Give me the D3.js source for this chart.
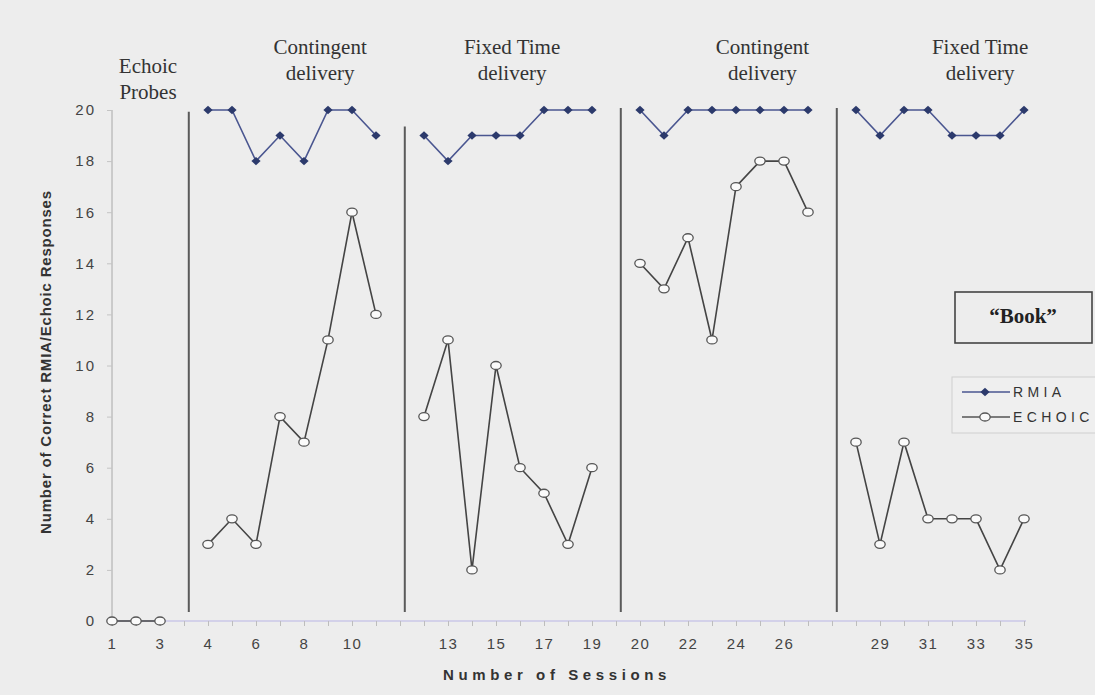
<!DOCTYPE html>
<html>
<head>
<meta charset="utf-8">
<script src="https://cdn.jsdelivr.net/npm/d3@7/dist/d3.min.js"></script>
<style>
  html, body { margin: 0; padding: 0; background: #ededed; }
  svg { display: block; }
</style>
</head>
<body>
<svg id="chart" width="1095" height="695"></svg>
<script>
// ---- DATA ----
// x slots: sessions with a blank slot at each phase change (null label)
const slotLabels = ["1","2","3",null,"4","5","6","7","8","9","10","11",null,
  "12","13","14","15","16","17","18","19",null,
  "20","21","22","23","24","25","26","27",null,
  "28","29","30","31","32","33","34","35"];
const rmia = [null,null,null,null, 20,20,18,19,18,20,20,19, null,
  19,18,19,19,19,20,20,20, null,
  20,19,20,20,20,20,20,20, null,
  20,19,20,20,19,19,19,20];
const echoic = [0,0,0,null, 3,4,3,8,7,11,16,12, null,
  8,11,2,10,6,5,3,6, null,
  14,13,15,11,17,18,18,16, null,
  7,3,7,4,4,4,2,4];
const yTicks = [0,2,4,6,8,10,12,14,16,18,20];
const phaseNames = [["Echoic","Probes"],["Contingent","delivery"],["Fixed Time","delivery"],["Contingent","delivery"],["Fixed Time","delivery"]];
const phaseLabelSlot = [1.5, 8.67, 16.67, 27.1, 36.17];
const phaseLineTop = [19.93, 19.35, 20.08, 20.08];
const seriesNames = ["RMIA","ECHOIC"];

// ---- LAYOUT ----
const svg = d3.select("#chart");
svg.append("rect").attr("width",1095).attr("height",695).attr("fill","#ededed");

const slotKeys = slotLabels.map((d,i)=> "k"+i);
const x = d3.scalePoint().domain(slotKeys).range([112,1024]);
const xi = d3.scaleLinear().domain([0, slotKeys.length-1]).range([112,1024]);
const step = x.step();
const y = d3.scaleLinear().domain([0,20]).range([621,110]);

// y axis
const yAxis = d3.axisLeft(y).tickValues(yTicks).tickSize(5).tickPadding(10);
const gy = svg.append("g").attr("transform","translate(112,0)").call(yAxis);
gy.select(".domain").attr("stroke","#a8a8a8").attr("stroke-width",1).attr("d","M0,"+y(20)+"V"+y(0));
gy.selectAll(".tick line").attr("stroke","#c4c4c4");
gy.selectAll(".tick text").attr("font-family","Arial, 'Liberation Sans', sans-serif")
  .attr("font-size",15).attr("fill","#444").attr("letter-spacing","2px").attr("dx","-1");

// x axis
const xAxis = d3.axisBottom(x).tickSize(5).tickPadding(12)
  .tickFormat((d,i)=> (i%2===0 && slotLabels[i]!==null) ? slotLabels[i] : "");
const gx = svg.append("g").attr("transform","translate(0,"+y(0)+")").call(xAxis);
gx.select(".domain").attr("stroke","#b9b6e6").attr("stroke-width",1.2).attr("d","M112,0H1026");
gx.selectAll(".tick line").attr("stroke","#bdbdbd");
gx.selectAll(".tick text").attr("font-family","Arial, 'Liberation Sans', sans-serif")
  .attr("font-size",15).attr("fill","#444").attr("letter-spacing","1.5px");

// phase change lines
const gapIdx = slotLabels.map((d,i)=> d===null ? i : -1).filter(i=> i>=0);
svg.append("g").selectAll("line").data(gapIdx).join("line")
  .attr("x1",(d)=> x("k"+d)+step*0.2).attr("x2",(d)=> x("k"+d)+step*0.2)
  .attr("y1",(d,i)=> y(phaseLineTop[i])).attr("y2", y(0.35))
  .attr("stroke","#5a5a5a").attr("stroke-width",2);

// phase labels
const pl = svg.append("g").attr("font-family","'Liberation Serif', 'Times New Roman', serif")
  .attr("font-size",21).attr("fill","#333").attr("text-anchor","middle");
phaseNames.forEach((lines,i)=>{
  const cx = xi(phaseLabelSlot[i]);
  const base = i===0 ? 73 : 54;
  lines.forEach((t,j)=>{
    pl.append("text").attr("x",cx).attr("y",base + j*26).text(t);
  });
});

// line generators (break at nulls)
const idx = d3.range(slotKeys.length);
const lineGen = (arr)=> d3.line()
  .defined(i=> arr[i]!==null)
  .x(i=> x("k"+i)).y(i=> y(arr[i]));

// RMIA
svg.append("path").datum(idx).attr("d", lineGen(rmia))
  .attr("fill","none").attr("stroke","#4a5690").attr("stroke-width",1.6);
const diamond = (w,h)=> `M0,${-h}L${w},0L0,${h}L${-w},0Z`;
svg.append("g").selectAll("path").data(idx.filter(i=> rmia[i]!==null)).join("path")
  .attr("transform", i=> `translate(${x("k"+i)},${y(rmia[i])})`)
  .attr("d", diamond(4.6,4.2)).attr("fill","#2c3a6c");

// ECHOIC
svg.append("path").datum(idx).attr("d", lineGen(echoic))
  .attr("fill","none").attr("stroke","#444").attr("stroke-width",1.6);
svg.append("g").selectAll("ellipse").data(idx.filter(i=> echoic[i]!==null)).join("ellipse")
  .attr("cx", i=> x("k"+i)).attr("cy", i=> y(echoic[i]))
  .attr("rx",5.2).attr("ry",4).attr("fill","#fafafa").attr("stroke","#555").attr("stroke-width",1.3);

// axis titles
svg.append("text").attr("x",557).attr("y",680).attr("text-anchor","middle")
  .attr("font-family","Arial, 'Liberation Sans', sans-serif").attr("font-weight","bold")
  .attr("font-size",15).attr("letter-spacing","4.6px").attr("fill","#333").text("Number of Sessions");
svg.append("text").attr("transform","translate(51,362) rotate(-90)").attr("text-anchor","middle")
  .attr("font-family","Arial, 'Liberation Sans', sans-serif").attr("font-weight","bold")
  .attr("font-size",15).attr("letter-spacing","0.8px").attr("fill","#333").text("Number of Correct RMIA/Echoic Responses");

// "Book" box
svg.append("rect").attr("x",955).attr("y",292).attr("width",137).attr("height",51)
  .attr("fill","none").attr("stroke","#444").attr("stroke-width",1.6);
svg.append("text").attr("x",1023).attr("y",323).attr("text-anchor","middle")
  .attr("font-family","'Liberation Serif', 'Times New Roman', serif").attr("font-weight","bold")
  .attr("font-size",21).attr("fill","#222").text("\u201CBook\u201D");

// legend
const lg = svg.append("g");
lg.append("rect").attr("x",952).attr("y",377).attr("width",150).attr("height",56)
  .attr("fill","#efefef").attr("stroke","#cfcfcf").attr("stroke-width",1);
seriesNames.forEach((name,i)=>{
  const ly = 392 + i*25;
  lg.append("line").attr("x1",962).attr("x2",1010).attr("y1",ly).attr("y2",ly)
    .attr("stroke", i===0 ? "#4a5690" : "#555").attr("stroke-width",1.6);
  if(i===0){
    lg.append("path").attr("transform",`translate(985,${ly})`).attr("d",diamond(4.6,4.2)).attr("fill","#2c3a6c");
  } else {
    lg.append("ellipse").attr("cx",985).attr("cy",ly).attr("rx",5.2).attr("ry",4)
      .attr("fill","#fafafa").attr("stroke","#555").attr("stroke-width",1.3);
  }
  lg.append("text").attr("x",1013).attr("y",ly+5)
    .attr("font-family","Arial, 'Liberation Sans', sans-serif").attr("font-size",14)
    .attr("letter-spacing","4.4px").attr("fill","#333").text(name);
});
</script>
</body>
</html>
